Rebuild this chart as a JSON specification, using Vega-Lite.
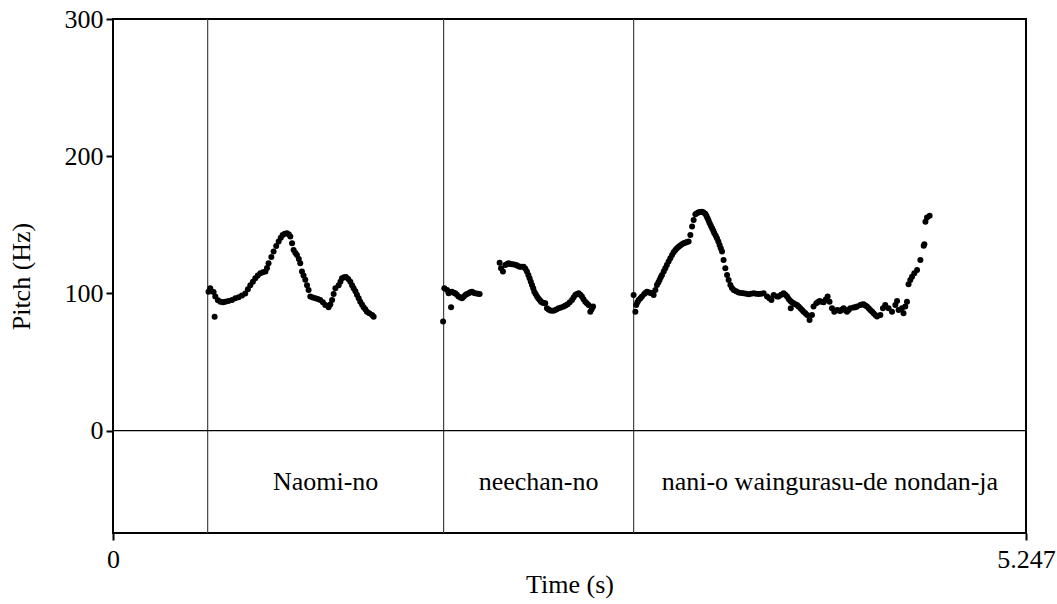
{
  "$schema": "https://vega.github.io/schema/vega-lite/v6.json",
  "autosize": {"type": "none"},
  "padding": {"left": 113, "top": 19, "right": 31, "bottom": 71},
  "width": 913,
  "height": 514,
  "background": "white",
  "config": {
    "view": {"stroke": "#000", "strokeWidth": 2},
    "font": "Liberation Serif",
    "axis": {
      "labelFont": "Liberation Serif",
      "titleFont": "Liberation Serif",
      "labelFontSize": 26,
      "titleFontSize": 26,
      "titleFontWeight": "normal",
      "labelColor": "#000",
      "titleColor": "#000",
      "tickColor": "#000",
      "tickWidth": 2,
      "tickSize": 7,
      "domain": false,
      "grid": false
    }
  },
  "datasets": {
    "pitch": [
      {"t": 0.549, "f": 101.3}, {"t": 0.559, "f": 103.8}, {"t": 0.578, "f": 101}, {"t": 0.584, "f": 83}, {"t": 0.588, "f": 97.7},
      {"t": 0.603, "f": 95}, {"t": 0.617, "f": 94}, {"t": 0.632, "f": 93.5}, {"t": 0.645, "f": 94}, {"t": 0.663, "f": 94.5},
      {"t": 0.684, "f": 95.3}, {"t": 0.703, "f": 96.5}, {"t": 0.722, "f": 97.2}, {"t": 0.741, "f": 98.5}, {"t": 0.76, "f": 100},
      {"t": 0.775, "f": 103}, {"t": 0.789, "f": 106}, {"t": 0.804, "f": 108.5}, {"t": 0.818, "f": 111}, {"t": 0.832, "f": 113},
      {"t": 0.847, "f": 114.7}, {"t": 0.861, "f": 115.5}, {"t": 0.876, "f": 115.9}, {"t": 0.885, "f": 118.5}, {"t": 0.894, "f": 122},
      {"t": 0.91, "f": 126.5}, {"t": 0.923, "f": 130.5}, {"t": 0.938, "f": 134.5}, {"t": 0.952, "f": 137.8}, {"t": 0.964, "f": 140.5},
      {"t": 0.975, "f": 142.6}, {"t": 0.987, "f": 143.5}, {"t": 1.0, "f": 143.9}, {"t": 1.011, "f": 143}, {"t": 1.019, "f": 141.4},
      {"t": 1.029, "f": 136.6}, {"t": 1.038, "f": 131.7}, {"t": 1.048, "f": 129.5}, {"t": 1.057, "f": 128}, {"t": 1.068, "f": 125},
      {"t": 1.076, "f": 122}, {"t": 1.086, "f": 116}, {"t": 1.095, "f": 113}, {"t": 1.105, "f": 110}, {"t": 1.115, "f": 106},
      {"t": 1.124, "f": 102.5}, {"t": 1.134, "f": 97.7}, {"t": 1.148, "f": 97}, {"t": 1.163, "f": 96.5}, {"t": 1.177, "f": 96},
      {"t": 1.191, "f": 95.3}, {"t": 1.206, "f": 93.5}, {"t": 1.22, "f": 91.6}, {"t": 1.239, "f": 90}, {"t": 1.249, "f": 92},
      {"t": 1.259, "f": 95.3}, {"t": 1.268, "f": 99.5}, {"t": 1.278, "f": 103.8}, {"t": 1.297, "f": 106}, {"t": 1.307, "f": 108.5},
      {"t": 1.316, "f": 111}, {"t": 1.328, "f": 111.8}, {"t": 1.339, "f": 112}, {"t": 1.352, "f": 110.5}, {"t": 1.364, "f": 108.6},
      {"t": 1.374, "f": 106}, {"t": 1.383, "f": 103.8}, {"t": 1.393, "f": 101.5}, {"t": 1.402, "f": 99}, {"t": 1.412, "f": 96.5},
      {"t": 1.421, "f": 94}, {"t": 1.431, "f": 92}, {"t": 1.44, "f": 90}, {"t": 1.45, "f": 88.5}, {"t": 1.459, "f": 86.7},
      {"t": 1.473, "f": 85.5}, {"t": 1.489, "f": 84.3}, {"t": 1.498, "f": 83},
      {"t": 1.897, "f": 79.5}, {"t": 1.904, "f": 103.8}, {"t": 1.92, "f": 102.5}, {"t": 1.929, "f": 100.1}, {"t": 1.943, "f": 90},
      {"t": 1.948, "f": 101.3}, {"t": 1.957, "f": 100.5}, {"t": 1.967, "f": 100.1}, {"t": 1.976, "f": 99}, {"t": 1.986, "f": 97.7},
      {"t": 1.996, "f": 97}, {"t": 2.006, "f": 96.5}, {"t": 2.015, "f": 97.5}, {"t": 2.025, "f": 98.9}, {"t": 2.034, "f": 99.5},
      {"t": 2.044, "f": 100.1}, {"t": 2.053, "f": 100.8}, {"t": 2.063, "f": 101.3}, {"t": 2.072, "f": 100.5}, {"t": 2.082, "f": 100.1},
      {"t": 2.095, "f": 99.8}, {"t": 2.107, "f": 99.6},
      {"t": 2.222, "f": 122.4}, {"t": 2.23, "f": 118.4}, {"t": 2.241, "f": 115.9}, {"t": 2.255, "f": 120.8}, {"t": 2.265, "f": 121.5},
      {"t": 2.274, "f": 122}, {"t": 2.283, "f": 121.5}, {"t": 2.293, "f": 121.3}, {"t": 2.305, "f": 121}, {"t": 2.318, "f": 120.8},
      {"t": 2.327, "f": 120}, {"t": 2.337, "f": 119.5}, {"t": 2.348, "f": 119.5}, {"t": 2.36, "f": 119.5}, {"t": 2.37, "f": 118},
      {"t": 2.379, "f": 115.9}, {"t": 2.387, "f": 113.5}, {"t": 2.394, "f": 111}, {"t": 2.401, "f": 108.5}, {"t": 2.408, "f": 106.2},
      {"t": 2.415, "f": 103.8}, {"t": 2.421, "f": 101.3}, {"t": 2.429, "f": 99.5}, {"t": 2.437, "f": 97.7}, {"t": 2.444, "f": 96.5},
      {"t": 2.452, "f": 95.3}, {"t": 2.459, "f": 94.2}, {"t": 2.466, "f": 93.3}, {"t": 2.475, "f": 93}, {"t": 2.484, "f": 92.9},
      {"t": 2.494, "f": 89.2}, {"t": 2.503, "f": 88.3}, {"t": 2.513, "f": 87.5}, {"t": 2.525, "f": 87.3}, {"t": 2.536, "f": 87.5},
      {"t": 2.548, "f": 88.3}, {"t": 2.561, "f": 89.2}, {"t": 2.575, "f": 89.8}, {"t": 2.59, "f": 90.4}, {"t": 2.601, "f": 91.2},
      {"t": 2.613, "f": 92.1}, {"t": 2.625, "f": 93.5}, {"t": 2.638, "f": 95.3}, {"t": 2.647, "f": 97}, {"t": 2.657, "f": 98.9},
      {"t": 2.666, "f": 99.6}, {"t": 2.676, "f": 100.1}, {"t": 2.686, "f": 99}, {"t": 2.695, "f": 97.7}, {"t": 2.704, "f": 95.8},
      {"t": 2.714, "f": 94}, {"t": 2.723, "f": 92.8}, {"t": 2.733, "f": 91.6}, {"t": 2.743, "f": 86.7}, {"t": 2.751, "f": 88.5},
      {"t": 2.759, "f": 90.4},
      {"t": 2.992, "f": 98.9}, {"t": 3.002, "f": 86.7}, {"t": 3.007, "f": 91.6}, {"t": 3.014, "f": 93.5}, {"t": 3.021, "f": 95.3},
      {"t": 3.031, "f": 96.5}, {"t": 3.04, "f": 97.7}, {"t": 3.053, "f": 99.5}, {"t": 3.061, "f": 100.5}, {"t": 3.069, "f": 101.3},
      {"t": 3.082, "f": 100.7}, {"t": 3.09, "f": 100.4}, {"t": 3.098, "f": 100.1}, {"t": 3.107, "f": 98.9}, {"t": 3.117, "f": 102.5},
      {"t": 3.126, "f": 106.2}, {"t": 3.134, "f": 108}, {"t": 3.141, "f": 109.8}, {"t": 3.148, "f": 111.7}, {"t": 3.155, "f": 113.5},
      {"t": 3.165, "f": 116}, {"t": 3.174, "f": 118.4}, {"t": 3.183, "f": 120.8}, {"t": 3.193, "f": 123.2}, {"t": 3.203, "f": 125.6},
      {"t": 3.213, "f": 128}, {"t": 3.222, "f": 130}, {"t": 3.232, "f": 131.7}, {"t": 3.241, "f": 133}, {"t": 3.251, "f": 134.1},
      {"t": 3.26, "f": 135}, {"t": 3.27, "f": 135.9}, {"t": 3.279, "f": 136.5}, {"t": 3.289, "f": 137}, {"t": 3.298, "f": 137.4},
      {"t": 3.308, "f": 137.8}, {"t": 3.318, "f": 142.6}, {"t": 3.328, "f": 148.7}, {"t": 3.337, "f": 153.6}, {"t": 3.347, "f": 157.7},
      {"t": 3.356, "f": 158.5}, {"t": 3.366, "f": 159.2}, {"t": 3.375, "f": 159.4}, {"t": 3.385, "f": 159.6}, {"t": 3.394, "f": 159},
      {"t": 3.404, "f": 158}, {"t": 3.411, "f": 156.5}, {"t": 3.417, "f": 154.8}, {"t": 3.423, "f": 153}, {"t": 3.429, "f": 151.2},
      {"t": 3.436, "f": 149.3}, {"t": 3.443, "f": 147.5}, {"t": 3.45, "f": 145.7}, {"t": 3.456, "f": 143.9}, {"t": 3.464, "f": 142},
      {"t": 3.471, "f": 140.2}, {"t": 3.479, "f": 137.8}, {"t": 3.486, "f": 135.3}, {"t": 3.493, "f": 132.9}, {"t": 3.5, "f": 130.5},
      {"t": 3.509, "f": 124.4}, {"t": 3.519, "f": 118.4}, {"t": 3.529, "f": 113.5}, {"t": 3.538, "f": 109.8}, {"t": 3.548, "f": 106.2},
      {"t": 3.557, "f": 104}, {"t": 3.567, "f": 102.5}, {"t": 3.581, "f": 101.5}, {"t": 3.595, "f": 100.6}, {"t": 3.61, "f": 100.3},
      {"t": 3.624, "f": 100.1}, {"t": 3.639, "f": 99.8}, {"t": 3.653, "f": 99.4}, {"t": 3.667, "f": 99.8}, {"t": 3.682, "f": 100.1},
      {"t": 3.696, "f": 99.8}, {"t": 3.71, "f": 99.6}, {"t": 3.725, "f": 99.8}, {"t": 3.739, "f": 100.1}, {"t": 3.759, "f": 97.7},
      {"t": 3.772, "f": 96.5}, {"t": 3.784, "f": 95.3}, {"t": 3.797, "f": 98.9}, {"t": 3.816, "f": 97.7}, {"t": 3.825, "f": 97.7},
      {"t": 3.84, "f": 99}, {"t": 3.854, "f": 100.1}, {"t": 3.864, "f": 99}, {"t": 3.874, "f": 97.7}, {"t": 3.883, "f": 96},
      {"t": 3.893, "f": 94.5}, {"t": 3.895, "f": 89.2}, {"t": 3.902, "f": 93.5}, {"t": 3.911, "f": 92.9}, {"t": 3.921, "f": 92.2},
      {"t": 3.931, "f": 91.6}, {"t": 3.94, "f": 90.4}, {"t": 3.95, "f": 89.2}, {"t": 3.96, "f": 88}, {"t": 3.969, "f": 86.7},
      {"t": 3.979, "f": 85.5}, {"t": 3.989, "f": 84.3}, {"t": 4.003, "f": 80.7}, {"t": 4.017, "f": 84.3}, {"t": 4.026, "f": 90.4},
      {"t": 4.042, "f": 92.9}, {"t": 4.052, "f": 93.8}, {"t": 4.061, "f": 94.5}, {"t": 4.072, "f": 94}, {"t": 4.084, "f": 93.6},
      {"t": 4.096, "f": 95.5}, {"t": 4.107, "f": 97.7}, {"t": 4.118, "f": 94}, {"t": 4.132, "f": 89.2}, {"t": 4.145, "f": 86.7},
      {"t": 4.161, "f": 88}, {"t": 4.17, "f": 87.6}, {"t": 4.18, "f": 87.2}, {"t": 4.19, "f": 88.2}, {"t": 4.199, "f": 89.2},
      {"t": 4.208, "f": 88}, {"t": 4.218, "f": 86.7}, {"t": 4.228, "f": 88}, {"t": 4.237, "f": 89.2}, {"t": 4.256, "f": 89.7},
      {"t": 4.266, "f": 90}, {"t": 4.276, "f": 90.4}, {"t": 4.295, "f": 91.6}, {"t": 4.305, "f": 92}, {"t": 4.314, "f": 92.1},
      {"t": 4.324, "f": 91.2}, {"t": 4.333, "f": 90.4}, {"t": 4.343, "f": 89.2}, {"t": 4.352, "f": 88}, {"t": 4.362, "f": 86.8},
      {"t": 4.371, "f": 85.6}, {"t": 4.381, "f": 84.3}, {"t": 4.391, "f": 83.1}, {"t": 4.41, "f": 84.3}, {"t": 4.425, "f": 89.2},
      {"t": 4.438, "f": 91.6}, {"t": 4.457, "f": 89.2}, {"t": 4.477, "f": 86.7}, {"t": 4.496, "f": 91.6}, {"t": 4.506, "f": 94.5},
      {"t": 4.515, "f": 88}, {"t": 4.534, "f": 89.2}, {"t": 4.543, "f": 85.6}, {"t": 4.553, "f": 90.4}, {"t": 4.563, "f": 94},
      {"t": 4.572, "f": 106.7}, {"t": 4.582, "f": 109.8}, {"t": 4.592, "f": 112.2}, {"t": 4.605, "f": 114.7}, {"t": 4.621, "f": 117.1},
      {"t": 4.64, "f": 124.4}, {"t": 4.659, "f": 134.8}, {"t": 4.663, "f": 135.9}, {"t": 4.669, "f": 152.3}, {"t": 4.678, "f": 155.3},
      {"t": 4.693, "f": 156.7}
    ],
    "bounds": [{"t": 0.544}, {"t": 1.9}, {"t": 2.992}],
    "labels": [
      {"t": 1.222, "label": "Naomi-no"},
      {"t": 2.446, "label": "neechan-no"},
      {"t": 4.12, "label": "nani-o waingurasu-de nondan-ja"}
    ]
  },
  "layer": [
    {
      "data": {"name": "bounds"},
      "mark": {"type": "rule", "color": "#444", "strokeWidth": 1.2},
      "encoding": {
        "x": {"field": "t", "type": "quantitative", "scale": {"domain": [0, 5.247], "nice": false, "zero": false},
          "axis": {"values": [0, 5.247], "labelExpr": "datum.value == 0 ? '0' : '5.247'", "labelFlush": false, "labelPadding": 6, "title": "Time (s)", "titleBaseline": "alphabetic", "titleY": 59}},
        "y": {"datum": 300, "type": "quantitative"},
        "y2": {"datum": -74.6}
      }
    },
    {
      "data": {"values": [{}]},
      "mark": {"type": "rule", "color": "#000", "strokeWidth": 1.2},
      "encoding": {
        "y": {"datum": 0, "type": "quantitative"}
      }
    },
    {
      "data": {"name": "pitch"},
      "mark": {"type": "circle", "color": "#000", "opacity": 1, "size": 36},
      "encoding": {
        "x": {"field": "t", "type": "quantitative"},
        "y": {"field": "f", "type": "quantitative", "scale": {"domain": [-74.6, 300], "nice": false, "zero": false},
          "axis": {"values": [0, 100, 200, 300], "format": "d", "labelPadding": 3, "title": "Pitch (Hz)", "titleAngle": -90, "titleBaseline": "middle", "titleX": -92, "titleY": 257, "titleAlign": "center"}}
      }
    },
    {
      "data": {"name": "labels"},
      "mark": {"type": "text", "font": "Liberation Serif", "fontSize": 26, "color": "#000", "baseline": "alphabetic", "align": "center"},
      "encoding": {
        "x": {"field": "t", "type": "quantitative"},
        "y": {"datum": -43.2, "type": "quantitative"},
        "text": {"field": "label"}
      }
    }
  ]
}
